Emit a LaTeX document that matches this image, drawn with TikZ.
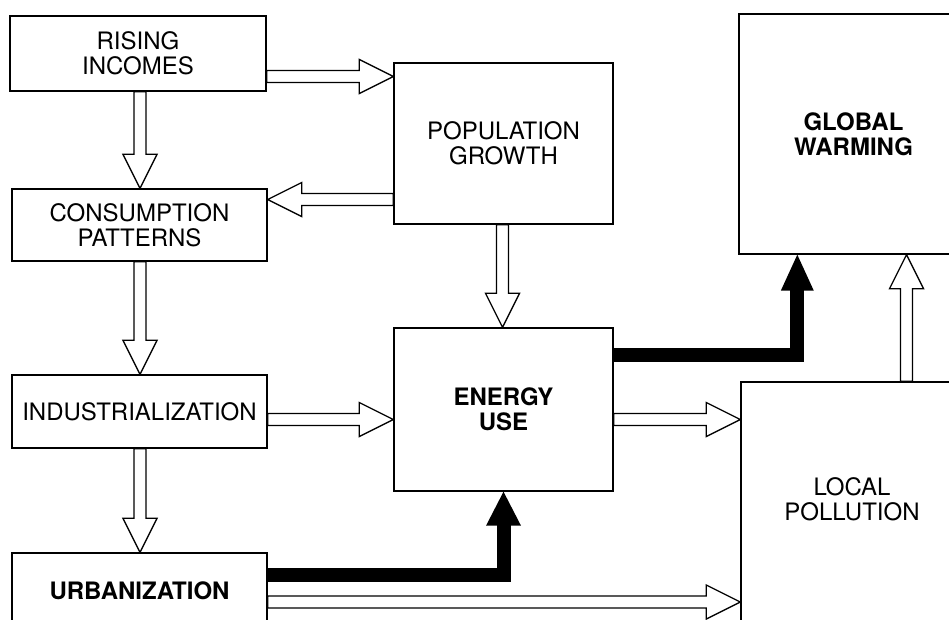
\documentclass[tikz,border=0pt]{standalone}
\usepackage{fontspec}
\setmainfont{TeX Gyre Heros}
\usetikzlibrary{calc}
\tikzset{
  box/.style={draw, line width=1.4pt, align=center, inner sep=0pt,
    font=\fontsize{24}{25}\selectfont},
  bbox/.style={box, font=\fontsize{24}{25}\selectfont\bfseries},
  lbl/.style={align=center, inner sep=0pt, font=\fontsize{24}{25}\selectfont},
  hollow/.style={draw, fill=white, line width=1.3pt, line join=miter},
  solidarrow/.style={line width=14pt, line join=miter, line cap=butt},
}
\newcommand{\hollowarrow}[2]{%
  \coordinate (hb) at ($(#2)!34pt!(#1)$);
  \draw[hollow] ($(#1)!6pt!90:(#2)$) -- ($(hb)!6pt!-90:(#1)$) -- ($(hb)!17pt!-90:(#1)$)
    -- (#2) -- ($(hb)!17pt!90:(#1)$) -- ($(hb)!6pt!90:(#1)$) -- ($(#1)!6pt!-90:(#2)$) -- cycle;}
\begin{document}
\begin{tikzpicture}[x=1pt,y=-1pt]
\clip (0,0) rectangle (949,619);
\fill[white] (0,0) rectangle (949,619);
% boxes
\node[box, minimum width=256pt, minimum height=75pt] (rising) at (138,53.5) {RISING\\INCOMES};
\node[box, minimum width=255pt, minimum height=72pt] (cons) at (139.5,225) {CONSUMPTION\\PATTERNS};
\node[box, minimum width=255pt, minimum height=73pt] (indus) at (139.5,411.5) {INDUSTRIALIZATION};
\node[bbox, minimum width=255pt, minimum height=75pt] (urban) at (139.5,590.5) {URBANIZATION};
\node[box, minimum width=219pt, minimum height=161pt] (pop) at (503.5,143.5) {POPULATION\\GROWTH};
\node[bbox, minimum width=219pt, minimum height=163pt] (energy) at (503.5,409.5) {ENERGY\\USE};
\node[bbox, minimum width=229pt, minimum height=240pt] (global) at (853.5,134) {GLOBAL\\WARMING};
\node[box, minimum width=227pt, minimum height=258pt] (local) at (854.5,511) {};
\node[lbl] (localtxt) at (852,499) {LOCAL\\POLLUTION};
% hollow arrows
\coordinate (a1s) at (rising.east |- 0,76.5);   \coordinate (a1e) at (pop.west |- 0,76.5);
\hollowarrow{a1s}{a1e}
\coordinate (a2s) at (rising.south -| 140,0);    \coordinate (a2e) at (cons.north -| 140,0);
\hollowarrow{a2s}{a2e}
\coordinate (a3s) at (pop.west |- 0,199.5);     \coordinate (a3e) at (cons.east |- 0,199.5);
\hollowarrow{a3s}{a3e}
\coordinate (a4s) at (cons.south -| 140,0);      \coordinate (a4e) at (indus.north -| 140,0);
\hollowarrow{a4s}{a4e}
\coordinate (a5s) at (indus.east |- 0,419.5);   \coordinate (a5e) at (energy.west |- 0,419.5);
\hollowarrow{a5s}{a5e}
\coordinate (a6s) at (indus.south -| 140,0);     \coordinate (a6e) at (urban.north -| 140,0);
\hollowarrow{a6s}{a6e}
\coordinate (a7s) at (pop.south -| 502.5,0);     \coordinate (a7e) at (energy.north -| 502.5,0);
\hollowarrow{a7s}{a7e}
\coordinate (a8s) at (energy.east |- 0,419.5);  \coordinate (a8e) at (local.west |- 0,419.5);
\hollowarrow{a8s}{a8e}
\coordinate (a9s) at (urban.east |- 0,602);     \coordinate (a9e) at (local.west |- 0,602);
\hollowarrow{a9s}{a9e}
\coordinate (a10s) at (local.north -| 906.5,0);  \coordinate (a10e) at (global.south -| 906.5,0);
\hollowarrow{a10s}{a10e}
% solid black arrows
\coordinate (u1) at (urban.east |- 0,575);
\draw[solidarrow] (u1) -| ($(energy.south)+(0,33)$);
\fill ($(energy.south)+(-17.5,34)$) -- (energy.south) -- ($(energy.south)+(17.5,34)$) -- cycle;
\coordinate (e1) at (energy.east |- 0,354.5);
\coordinate (g1) at ($(global.south west)+(59,0)$);
\draw[solidarrow] (e1) -| ($(g1)+(0,35)$);
\fill ($(g1)+(-16.5,36)$) -- (g1) -- ($(g1)+(16.5,36)$) -- cycle;
\end{tikzpicture}
\end{document}
